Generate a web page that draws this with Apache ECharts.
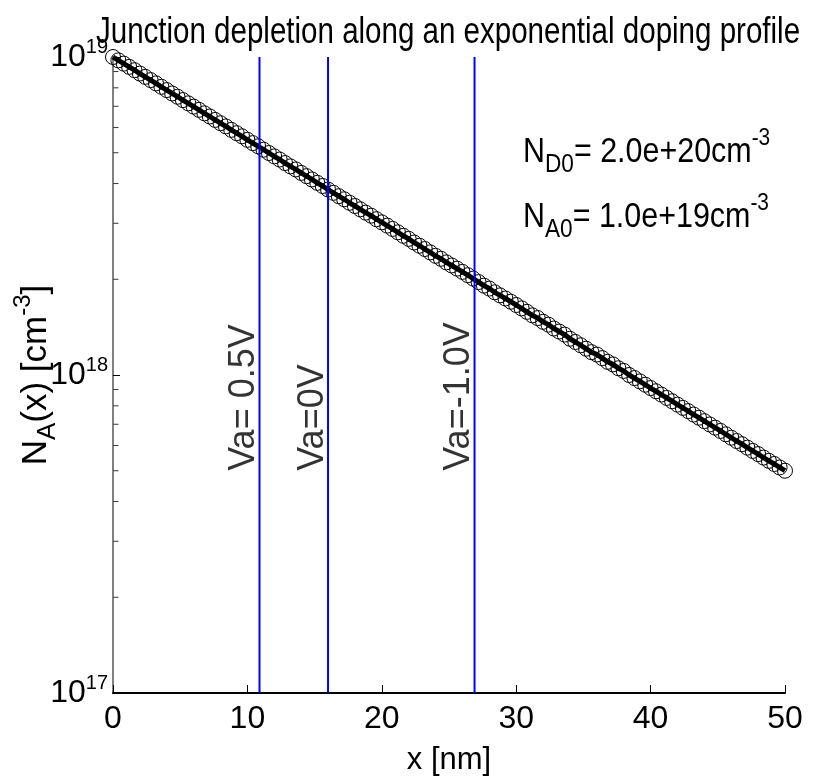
<!DOCTYPE html>
<html><head><meta charset="utf-8">
<script src="https://cdn.jsdelivr.net/npm/echarts@6/dist/echarts.min.js"></script>
<style>html,body{margin:0;padding:0;background:#fff}#c{width:820px;height:776px}</style>
</head><body><div id="c"></div><script>
const titleText = 'Junction depletion along an exponential doping profile';
const xPositions = [0,0.4,0.8,1.2,1.6,2,2.4,2.8,3.2,3.6,4,4.4,4.8,5.2,5.6,6,6.4,6.8,7.2,7.6,8,8.4,8.8,9.2,9.6,
  10,10.4,10.8,11.2,11.6,12,12.4,12.8,13.2,13.6,14,14.4,14.8,15.2,15.6,16,16.4,16.8,17.2,17.6,18,18.4,18.8,19.2,19.6,
  20,20.4,20.8,21.2,21.6,22,22.4,22.8,23.2,23.6,24,24.4,24.8,25.2,25.6,26,26.4,26.8,27.2,27.6,28,28.4,28.8,29.2,29.6,
  30,30.4,30.8,31.2,31.6,32,32.4,32.8,33.2,33.6,34,34.4,34.8,35.2,35.6,36,36.4,36.8,37.2,37.6,38,38.4,38.8,39.2,39.6,
  40,40.4,40.8,41.2,41.6,42,42.4,42.8,43.2,43.6,44,44.4,44.8,45.2,45.6,46,46.4,46.8,47.2,47.6,48,48.4,48.8,49.2,49.6,50];
const naValues = [1.00e19,9.76e18,9.53e18,9.31e18,9.09e18,8.87e18,8.66e18,8.46e18,8.26e18,8.06e18,7.87e18,7.68e18,7.50e18,7.32e18,7.15e18,6.98e18,6.82e18,6.65e18,6.50e18,6.34e18,6.19e18,6.05e18,5.90e18,5.76e18,5.63e18,
  5.49e18,5.36e18,5.24e18,5.11e18,4.99e18,4.87e18,4.76e18,4.64e18,4.53e18,4.43e18,4.32e18,4.22e18,4.12e18,4.02e18,3.93e18,3.83e18,3.74e18,3.65e18,3.57e18,3.48e18,3.40e18,3.32e18,3.24e18,3.17e18,3.09e18,
  3.02e18,2.95e18,2.88e18,2.81e18,2.74e18,2.68e18,2.61e18,2.55e18,2.49e18,2.43e18,2.37e18,2.32e18,2.26e18,2.21e18,2.16e18,2.11e18,2.06e18,2.01e18,1.96e18,1.91e18,1.87e18,1.82e18,1.78e18,1.74e18,1.70e18,
  1.66e18,1.62e18,1.58e18,1.54e18,1.51e18,1.47e18,1.44e18,1.40e18,1.37e18,1.34e18,1.30e18,1.27e18,1.24e18,1.21e18,1.18e18,1.16e18,1.13e18,1.10e18,1.08e18,1.05e18,1.03e18,1.00e18,9.78e17,9.55e17,9.32e17,
  9.10e17,8.89e17,8.68e17,8.47e17,8.27e17,8.07e17,7.88e17,7.70e17,7.51e17,7.34e17,7.16e17,6.99e17,6.83e17,6.67e17,6.51e17,6.35e17,6.20e17,6.06e17,5.91e17,5.77e17,5.64e17,5.50e17,5.37e17,5.25e17,5.12e17,5.00e17];
const junctionX = [10.9, 16.0, 26.9];
const junctionLabels = ['Va= 0.5V', 'Va=0V', 'Va=-1.0V'];
const junctionLabelY = 5.0e17;
const yMin = 1e17, yMax = 1e19;
const minorTickValues = [2e17,3e17,4e17,5e17,6e17,7e17,8e17,9e17,2e18,3e18,4e18,5e18,6e18,7e18,8e18,9e18];

const FONT = '"Liberation Sans",Arial,Helvetica,sans-serif';
const chart = echarts.init(document.getElementById('c'), null, {renderer: 'canvas'});

const series = [];
series.push({
  type: 'line', data: xPositions.map((x, i) => [x, naValues[i]]),
  symbol: 'circle', symbolSize: 15, showAllSymbol: true,
  lineStyle: {color: '#000', width: 5},
  itemStyle: {color: 'rgba(0,0,0,0)', borderColor: '#000', borderWidth: 1},
  emphasis: {disabled: true}, z: 3, clip: false
});
junctionX.forEach((x) => {
  series.push({
    type: 'line', data: [[x, yMin], [x, yMax]], symbol: 'none',
    lineStyle: {color: '#0000ff', width: 2}, z: 4, emphasis: {disabled: true}
  });
});
series.push({
  type: 'scatter', symbolSize: 0, z: 5, silent: true,
  data: junctionX.map((x, i) => ({value: [x, junctionLabelY], name: junctionLabels[i]})),
  label: {show: true, formatter: p => p.name, rotate: 90, position: [3, 0], align: 'left', verticalAlign: 'bottom',
          fontFamily: FONT, fontSize: 36, color: '#000'}
});
series.push({
  type: 'scatter', symbol: 'rect', symbolSize: [5, 1], symbolOffset: [3, 0], z: 6, silent: true, clip: false,
  data: minorTickValues.map(v => [0, v]), itemStyle: {color: '#000'}
});

const richAnno = {
  n: {fontFamily: FONT, fontSize: 35, fill: '#000', lineHeight: 52, verticalAlign: 'middle'},
  sub: {fontFamily: FONT, fontSize: 26, fill: '#000', lineHeight: 52, verticalAlign: 'bottom'},
  sup: {fontFamily: FONT, fontSize: 24, fill: '#000', lineHeight: 52, verticalAlign: 'top'}
};

chart.setOption({
  animation: false,
  grid: {left: 113, right: 35, top: 57, bottom: 83, containLabel: false, outerBoundsMode: 'none'},
  xAxis: {
    type: 'value', min: 0, max: 50, interval: 10,
    axisLine: {lineStyle: {color: '#000', width: 2}},
    axisTick: {inside: true, length: 8, lineStyle: {color: '#000', width: 1}},
    axisLabel: {margin: 10, fontFamily: FONT, fontSize: 32, color: '#000'},
    splitLine: {show: false},
    name: 'x [nm]', nameLocation: 'middle', nameGap: 52, nameMoveOverlap: false,
    nameTextStyle: {fontFamily: FONT, fontSize: 31, color: '#000'}
  },
  yAxis: {
    type: 'log', logBase: 10, min: yMin, max: yMax,
    axisLine: {lineStyle: {color: '#808080', width: 2}},
    axisTick: {inside: true, length: 7, lineStyle: {color: '#000', width: 1}},
    splitLine: {show: false},
    axisLabel: {
      margin: 5,
      formatter: v => '{b|10}{s|' + Math.round(Math.log10(v)) + '}',
      rich: {
        b: {fontFamily: FONT, fontSize: 32, color: '#000', verticalAlign: 'middle', lineHeight: 40},
        s: {fontFamily: FONT, fontSize: 20, color: '#000', verticalAlign: 'top', lineHeight: 40, padding: [0, 0, 18, 0]}
      }
    },
    name: '{n|N}{sub|A}{n|(x) [cm}{sup|-3}{n|]}', nameLocation: 'middle', nameGap: 52, nameRotate: 90, nameMoveOverlap: false,
    nameTextStyle: {
      rich: {
        n: {fontFamily: FONT, fontSize: 35, color: '#000', lineHeight: 50, verticalAlign: 'middle'},
        sub: {fontFamily: FONT, fontSize: 26, color: '#000', lineHeight: 50, verticalAlign: 'bottom'},
        sup: {fontFamily: FONT, fontSize: 24, color: '#000', lineHeight: 50, verticalAlign: 'top'}
      }
    }
  },
  graphic: [
    {type: 'text', x: 448, y: 15, scaleX: 0.82, z: 10, style: {text: titleText, fontFamily: FONT, fontSize: 36, fill: '#000', align: 'center', verticalAlign: 'top'}},
    {type: 'text', x: 523, y: 126, scaleX: 0.87, z: 10, style: {text: '{n|N}{sub|D0}{n|= 2.0e+20cm}{sup|-3}', rich: richAnno}},
    {type: 'text', x: 523, y: 191, scaleX: 0.87, z: 10, style: {text: '{n|N}{sub|A0}{n|= 1.0e+19cm}{sup|-3}', rich: richAnno}}
  ],
  series: series
});
</script></body></html>
